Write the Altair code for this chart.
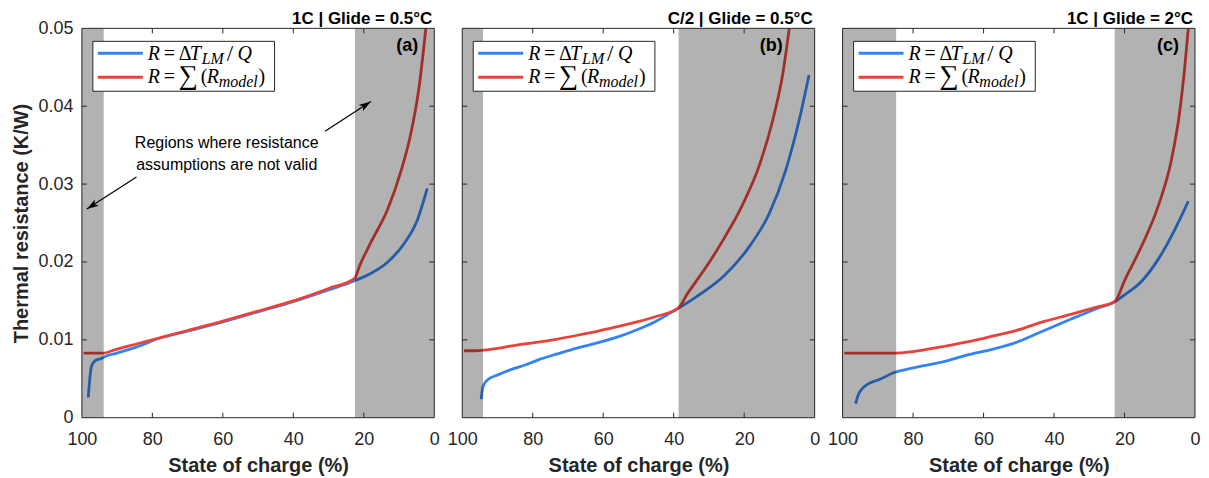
import altair as alt
import pandas as pd

# ---------------- data ----------------
X_TICKS = [100, 80, 60, 40, 20, 0]
Y_TICKS = [0, 0.01, 0.02, 0.03, 0.04, 0.05]
INNER_X = [80, 60, 40, 20]
INNER_Y = [0.01, 0.02, 0.03, 0.04]

titles = ["1C | Glide = 0.5°C", "C/2 | Glide = 0.5°C", "1C | Glide = 2°C"]
panel_labels = ["(a)", "(b)", "(c)"]

# panel (a)
red_soc_a = [99.5, 97, 95, 93.7, 91.5, 89.3, 85, 80, 70, 60, 50, 40, 30, 22.6,
             21.2, 17.9, 13.2, 9.5, 6.7, 4.3, 2.4]
red_r_a = [0.0083, 0.0083, 0.0083, 0.0083, 0.0086, 0.0089, 0.0094, 0.0100, 0.0112,
           0.0124, 0.0137, 0.0150, 0.0166, 0.0179,
           0.0195, 0.0226, 0.0268, 0.0316, 0.0364, 0.0425, 0.0500]
blue_soc_a = [98.2, 97.8, 97.3, 96.5, 95.9, 94.5, 93.7, 90, 85, 82, 80, 70, 60, 50,
              40, 30, 22.6, 17.9, 13.2, 8.5, 4.8, 2.0]
blue_r_a = [0.0026, 0.0048, 0.0066, 0.0072, 0.0074, 0.0076, 0.0078, 0.0083, 0.0090,
            0.0095, 0.0099, 0.0111, 0.0123, 0.0136, 0.0149, 0.0164, 0.0176, 0.01855,
            0.0200, 0.0224, 0.0254, 0.02945]
shade_from_a = [100, 22.5]
shade_to_a = [93.8, 0]

# panel (b)
red_soc_b = [99.5, 96, 93, 90, 85, 80, 73, 65, 61.7, 55, 50.4, 45, 38.7, 36, 33.5,
             30, 26.0, 20.4, 15.7, 11.9, 9.1, 7.2]
red_r_b = [0.0086, 0.0086, 0.0087, 0.0089, 0.0093, 0.0096, 0.0101, 0.0108, 0.0111,
           0.0118, 0.0123, 0.0130, 0.01406, 0.0160, 0.0176, 0.0199, 0.0228, 0.0274,
           0.0324, 0.0382, 0.0440, 0.0500]
blue_soc_b = [94.6, 94.3, 93.8, 92.7, 89.9, 86, 82, 78.6, 73, 67, 61.7, 55, 50.4, 45,
              38.7, 33.5, 26.0, 18.5, 12.9, 8.2, 4.4, 1.6]
blue_r_b = [0.0024, 0.0036, 0.0043, 0.0049, 0.0055, 0.0062, 0.0068, 0.0074, 0.0082,
            0.0090, 0.0096, 0.0105, 0.0113, 0.0124, 0.01406, 0.01556, 0.0181, 0.0220,
            0.0262, 0.0318, 0.0382, 0.0440]
shade_from_b = [100, 38.6]
shade_to_b = [94.1, 0]

# panel (c)
red_soc_c = [99.5, 95, 90, 85, 80, 71.9, 65, 57.3, 50, 43.3, 35, 28, 22.8, 19.9,
             15.2, 10.5, 6.7, 4.4, 3.0, 1.9]
red_r_c = [0.0083, 0.0083, 0.0083, 0.0083, 0.0085, 0.0091, 0.0097, 0.0105, 0.0113,
           0.0123, 0.0133, 0.0142, 0.0149, 0.0177, 0.0220, 0.0271, 0.0331, 0.0391,
           0.0446, 0.0500]
blue_soc_c = [96.3, 95.5, 93.8, 91.5, 89.6, 85.4, 80, 71.3, 65, 57.3, 50, 43.3, 35,
              28, 22.8, 19.9, 15.2, 10.5, 5.8, 1.9]
blue_r_c = [0.0018, 0.0030, 0.0040, 0.0046, 0.0049, 0.0058, 0.0064, 0.0072, 0.0080,
            0.0088, 0.0098, 0.0111, 0.0127, 0.0140, 0.0149, 0.0158, 0.0175, 0.0203,
            0.0241, 0.0278]
shade_from_c = [100, 22.8]
shade_to_c = [84.8, 0]

# annotation (panel a)
note_lines = ["Regions where resistance", "assumptions are not valid"]
note_soc = [58.9, 58.9]
note_r = [0.03526, 0.03244]
arrow1 = {"soc": [84.5], "soc2": [98.6], "R": [0.0309], "R2": [0.0268]}
arrow2 = {"soc": [31.0], "soc2": [18.0], "R": [0.0368], "R2": [0.0406]}

# ---------------- style ----------------
BLUE = "#3384f2"
RED = "#e8433a"
FRAME = "#262626"
SANS = "Liberation Sans"
SERIF = "Liberation Serif"
W, H = 353, 390
LW = 2.8

XSCALE = alt.Scale(domain=[0, 100], reverse=True, nice=False, zero=False)
YSCALE = alt.Scale(domain=[0, 0.05], nice=False, zero=False)

XAXIS = alt.Axis(values=X_TICKS, title="State of charge (%)", grid=False, ticks=False,
                 tickSize=0, domain=False, labelFlush=False, labelPadding=13,
                 labelFontSize=18, labelFont=SANS, labelColor=FRAME, format="d",
                 titleFontSize=20, titleFont=SANS, titleFontWeight="bold",
                 titleColor=FRAME, titlePadding=7)
YAXIS = alt.Axis(values=Y_TICKS, title="Thermal resistance (K/W)", grid=False,
                 ticks=False, tickSize=0, domain=False, labelFlush=False,
                 labelPadding=9, labelFontSize=18, labelFont=SANS, labelColor=FRAME,
                 labelExpr="datum.value == 0 ? '0' : format(datum.value, '.2f')",
                 titleFontSize=20, titleFont=SANS, titleFontWeight="bold",
                 titleColor=FRAME, titlePadding=6)


def make_panel(idx, red_soc, red_r, blue_soc, blue_r, s_from, s_to, label_right,
               show_y, annotate=False):
    yaxis = YAXIS if show_y else None

    def ex(f="soc"):
        return alt.X(f"{f}:Q", scale=XSCALE, axis=XAXIS)

    def ey(f="R"):
        return alt.Y(f"{f}:Q", scale=YSCALE, axis=yaxis)

    one = alt.Data(values=[{}])
    layers = []

    blue_df = pd.DataFrame({"soc": blue_soc, "R": blue_r})
    red_df = pd.DataFrame({"soc": red_soc, "R": red_r})
    layers.append(alt.Chart(blue_df).mark_line(color=BLUE, strokeWidth=LW, clip=True,
                                               interpolate="monotone")
                  .encode(x=ex(), y=ey(), order="soc:Q"))
    layers.append(alt.Chart(red_df).mark_line(color=RED, strokeWidth=LW, clip=True,
                                              interpolate="monotone")
                  .encode(x=ex(), y=ey(), order="soc:Q"))

    shade_df = pd.DataFrame({"soc": s_from, "soc2": s_to})
    layers.append(alt.Chart(shade_df).mark_rect(color="black", opacity=0.3)
                  .encode(x=ex(), x2=alt.X2("soc2:Q"), y=alt.value(0), y2=alt.value(H)))

    # inward ticks on all four sides
    xt = pd.DataFrame({"soc": INNER_X})
    yt = pd.DataFrame({"R": INNER_Y})
    layers.append(alt.Chart(xt).mark_rule(color=FRAME, strokeWidth=1)
                  .encode(x=ex(), y=alt.value(H), y2=alt.value(H - 5)))
    layers.append(alt.Chart(xt).mark_rule(color=FRAME, strokeWidth=1)
                  .encode(x=ex(), y=alt.value(0), y2=alt.value(5)))
    layers.append(alt.Chart(yt).mark_rule(color=FRAME, strokeWidth=1)
                  .encode(y=ey(), x=alt.value(0), x2=alt.value(5)))
    layers.append(alt.Chart(yt).mark_rule(color=FRAME, strokeWidth=1)
                  .encode(y=ey(), x=alt.value(W - 5), x2=alt.value(W)))

    # frame
    layers.append(alt.Chart(one).mark_rect(fill="transparent", stroke=FRAME, strokeWidth=1)
                  .encode(x=alt.value(0), x2=alt.value(W), y=alt.value(0), y2=alt.value(H)))

    # invisible spacer reserving room above the box for the panel title
    layers.append(alt.Chart(one).mark_rule(strokeOpacity=0, color="white")
                  .encode(x=alt.value(0), x2=alt.value(1), y=alt.value(-20)))

    # legend box
    layers.append(alt.Chart(one).mark_rect(fill="white", stroke=FRAME, strokeWidth=1)
                  .encode(x=alt.value(11), x2=alt.value(193), y=alt.value(13), y2=alt.value(63)))
    layers.append(alt.Chart(one).mark_rule(color=BLUE, strokeWidth=3)
                  .encode(x=alt.value(16), x2=alt.value(61), y=alt.value(25)))
    layers.append(alt.Chart(one).mark_rule(color=RED, strokeWidth=3)
                  .encode(x=alt.value(16), x2=alt.value(61), y=alt.value(49)))

    def seg(text, x, y, size=20, italic=True):
        return (alt.Chart(one)
                .mark_text(text=text, font=SERIF, fontSize=size,
                           fontStyle="italic" if italic else "normal",
                           align="left", baseline="alphabetic", color="black")
                .encode(x=alt.value(x), y=alt.value(y)))

    # entry 1: R = ΔT_LM / Q
    layers += [seg("R", 66, 32), seg("=", 82, 32, italic=False),
               seg("Δ", 97, 32, italic=False), seg("T", 108, 32),
               seg("LM", 120, 36, size=16), seg("/", 145, 33, size=23, italic=False),
               seg("Q", 156, 32)]
    # entry 2: R = Σ(R_model)
    layers += [seg("R", 66, 55), seg("=", 82, 55, italic=False),
               seg("∑", 97, 56, size=27, italic=False), seg("(", 119, 55, italic=False),
               seg("R", 125, 55), seg("model", 137, 59, size=16),
               seg(")", 177, 55, italic=False)]

    # panel label
    layers.append(alt.Chart(one).mark_text(text=panel_labels[idx], font=SANS, fontSize=18,
                                           fontWeight="bold", align="right",
                                           baseline="middle", color="black")
                  .encode(x=alt.value(label_right), y=alt.value(18)))

    # panel title (right-aligned above the box)
    layers.append(alt.Chart(one).mark_text(text=titles[idx], font=SANS, fontSize=17,
                                           fontWeight="bold", align="right",
                                           baseline="alphabetic", color="black")
                  .encode(x=alt.value(W - 2), y=alt.value(-4)))

    if annotate:
        note_df = pd.DataFrame({"soc": note_soc, "R": note_r, "t": note_lines})
        layers.append(alt.Chart(note_df).mark_text(font=SANS, fontSize=16, color="black",
                                                   align="center", baseline="middle")
                      .encode(x=ex(), y=ey(), text="t:N"))
        arrow_path = "M0,0 L0.5,1.6 L0,1.2 L-0.5,1.6 Z"
        for arr, ang in ((arrow1, 237.4), (arrow2, 56.9)):
            adf = pd.DataFrame(arr)
            layers.append(alt.Chart(adf).mark_rule(color="black", strokeWidth=1.2)
                          .encode(x=ex(), x2=alt.X2("soc2:Q"), y=ey(), y2=alt.Y2("R2:Q")))
            hdf = pd.DataFrame({"soc": arr["soc2"], "R": arr["R2"]})
            layers.append(alt.Chart(hdf).mark_point(shape=arrow_path, size=225, filled=True,
                                                    color="black", opacity=1,
                                                    strokeWidth=0, angle=ang)
                          .encode(x=ex(), y=ey()))

    return alt.layer(*layers).properties(width=W, height=H)


pa = make_panel(0, red_soc_a, red_r_a, blue_soc_a, blue_r_a, shade_from_a, shade_to_a,
                W - 16, True, annotate=True)
pb = make_panel(1, red_soc_b, red_r_b, blue_soc_b, blue_r_b, shade_from_b, shade_to_b,
                W - 32, False)
pc = make_panel(2, red_soc_c, red_r_c, blue_soc_c, blue_r_c, shade_from_c, shade_to_c,
                W - 16, False)

chart = (alt.hconcat(pa, pb, pc, spacing=28, bounds="flush")
         .properties(padding={"left": 3, "top": 0, "right": 0, "bottom": 0})
         .configure_view(stroke=None))

chart.save("out.html", embed_options={"renderer": "svg", "actions": False})
